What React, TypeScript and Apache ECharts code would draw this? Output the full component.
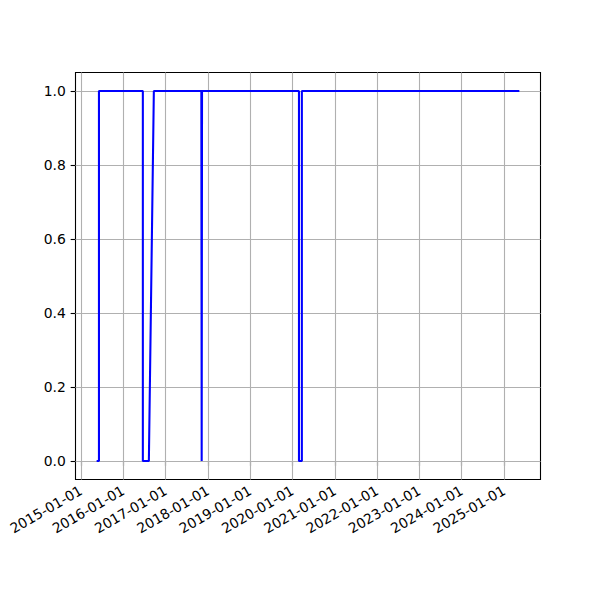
import React, { useEffect, useRef } from "react";
import * as echarts from "echarts";

// Series: status over time (0 / 1)
const dates: string[] = [
  "2015-05-16", "2015-06-05", "2015-06-05",
  "2016-06-18", "2016-06-18", "2016-08-09", "2016-09-21",
  "2017-11-05", "2017-11-08", "2017-11-11",
  "2020-02-26", "2020-02-26", "2020-03-22", "2020-03-22",
  "2025-05-13",
];
const values: number[] = [
  0, 0, 1,
  1, 0, 0, 1,
  1, 0, 1,
  1, 0, 0, 1,
  1,
];

const xTickLabels: string[] = [
  "2015-01-01", "2016-01-01", "2017-01-01", "2018-01-01", "2019-01-01",
  "2020-01-01", "2021-01-01", "2022-01-01", "2023-01-01", "2024-01-01", "2025-01-01",
];
const yTicks: number[] = [0, 0.2, 0.4, 0.6, 0.8, 1.0];

const toUTC = (d: string) => {
  const [y, m, dd] = d.split("-").map(Number);
  return Date.UTC(y, m - 1, dd);
};
const pad2 = (n: number) => (n < 10 ? "0" + n : "" + n);
const fmtDate = (v: number) => {
  const d = new Date(Math.round(v));
  return `${d.getUTCFullYear()}-${pad2(d.getUTCMonth() + 1)}-${pad2(d.getUTCDate())}`;
};

export default function App() {
  const ref = useRef<HTMLDivElement>(null);
  useEffect(() => {
    if (!ref.current) return;
    const chart = echarts.init(ref.current, undefined, { renderer: "svg" });
    const ts = dates.map(toUTC);
    const tMin = Math.min(...ts);
    const tMax = Math.max(...ts);
    const span = tMax - tMin;
    const xTicks = xTickLabels.map(toUTC);
    const font = "DejaVu Sans";
    const fs = 13.9;
    const gridLine = { color: "#b0b0b0", width: 1.1, type: "solid" as const };
    chart.setOption({
      animation: false,
      backgroundColor: "#ffffff",
      grid: {
        left: 75.5,
        top: 72.5,
        right: 59.5,
        bottom: 120.5,
        show: true,
        borderColor: "#000000",
        borderWidth: 1.1,
        backgroundColor: "transparent",
        containLabel: false,
      },
      xAxis: {
        type: "value",
        min: tMin - span * 0.05,
        max: tMax + span * 0.05,
        scale: true,
        axisLine: { show: false },
        axisTick: {
          show: true,
          length: 4.86,
          lineStyle: { color: "#000", width: 1.1 },
          customValues: xTicks,
        },
        axisLabel: {
          show: true,
          rotate: 30,
          margin: 9.7,
          color: "#000",
          fontFamily: font,
          fontSize: fs,
          customValues: xTicks,
          formatter: (v: number) => fmtDate(v),
        },
        splitLine: { show: false },
      },
      yAxis: {
        type: "value",
        min: -0.05,
        max: 1.05,
        axisLine: { show: false },
        axisTick: {
          show: true,
          length: 4.86,
          lineStyle: { color: "#000", width: 1.1 },
          customValues: yTicks,
        },
        axisLabel: {
          show: true,
          margin: 9.7,
          color: "#000",
          fontFamily: font,
          fontSize: fs,
          customValues: yTicks,
          formatter: (v: number) => v.toFixed(1),
        },
        splitLine: { show: false },
      },
      series: [
        {
          type: "line",
          z: 1,
          data: [],
          silent: true,
          markLine: {
            z: 1,
            silent: true,
            symbol: ["none", "none"],
            label: { show: false },
            lineStyle: gridLine,
            emphasis: { disabled: true },
            data: [
              ...xTicks.map((v) => ({ xAxis: v })),
              ...yTicks.map((v) => ({ yAxis: v })),
            ],
          },
        },
        {
          type: "line",
          z: 10,
          data: ts.map((t, i) => [t, values[i]]),
          showSymbol: false,
          symbol: "none",
          lineStyle: { color: "#0000ff", width: 2.08 },
          itemStyle: { color: "#0000ff" },
        },
      ],
    });
    return () => chart.dispose();
  }, []);
  return (
    <div
      ref={ref}
      style={{ position: "absolute", left: 0, top: 0, width: 600, height: 600 }}
    />
  );
}
